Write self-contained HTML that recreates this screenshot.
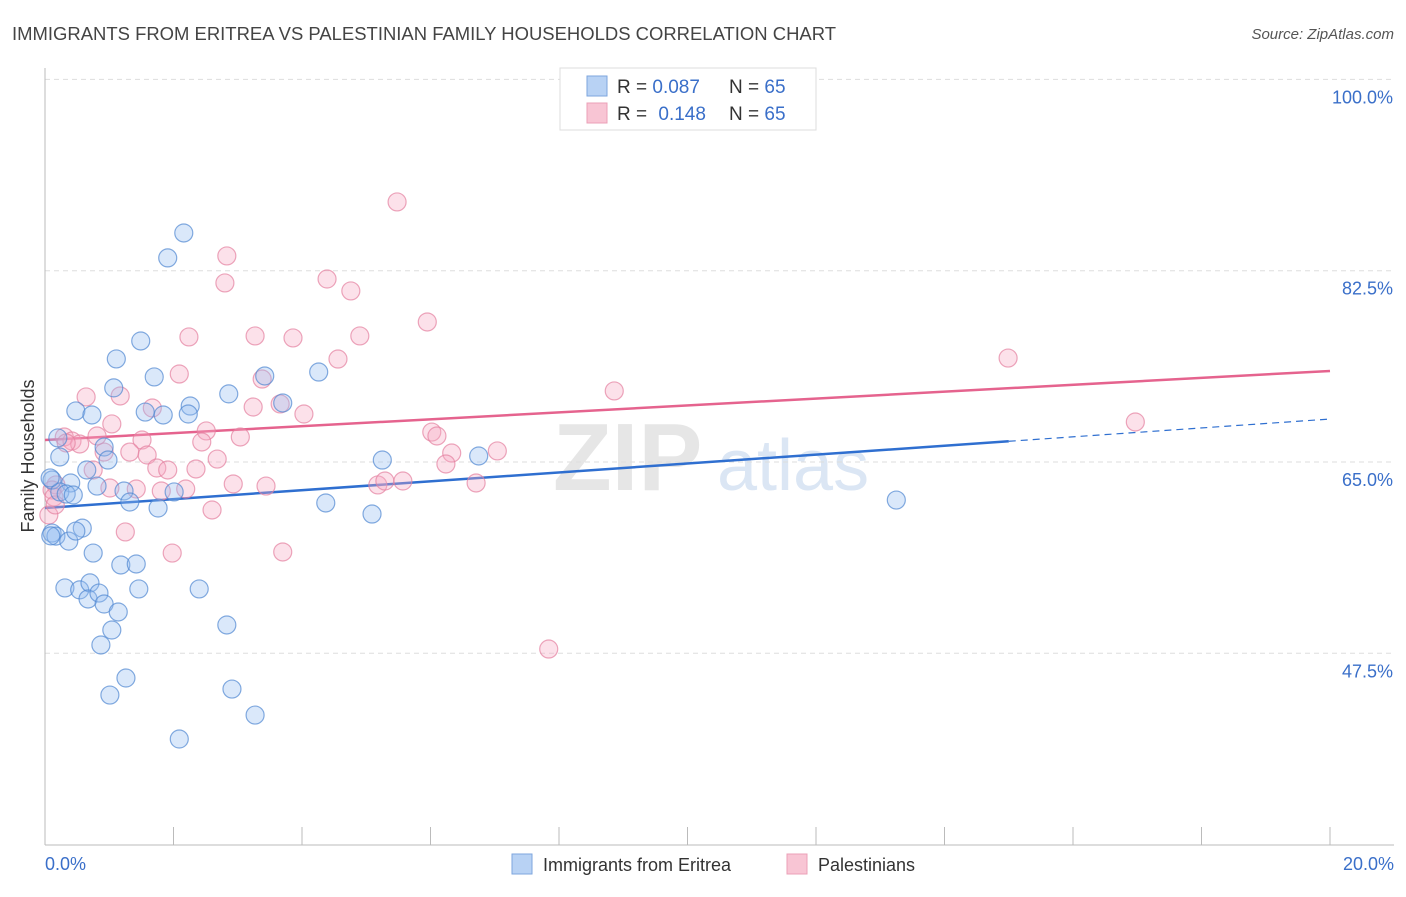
<!DOCTYPE html>
<html><head><meta charset="utf-8">
<style>
body{margin:0;background:#fff;font-family:"Liberation Sans",sans-serif;}
svg text{font-family:"Liberation Sans",sans-serif;}
</style></head>
<body>
<svg id="chart" width="1406" height="892" viewBox="0 0 1406 892" xmlns="http://www.w3.org/2000/svg">
<text x="12" y="40" font-size="18" fill="#444" textLength="824" lengthAdjust="spacingAndGlyphs">IMMIGRANTS FROM ERITREA VS PALESTINIAN FAMILY HOUSEHOLDS CORRELATION CHART</text>
<text x="1394" y="39" font-size="15" fill="#555" font-style="italic" text-anchor="end">Source: ZipAtlas.com</text>
<g>
<text x="553" y="490" font-size="96" fill="#e6e6e6" font-family="Liberation Serif" font-weight="bold">ZIP</text>
<text x="717" y="490" font-size="72" fill="#dbe6f4">atlas</text>
</g>
<g id="grid"></g>
<g id="axes"></g>
<g id="lines"></g>
<g id="pts"></g>
<text transform="translate(34,456) rotate(-90)" font-size="18" fill="#333" text-anchor="middle">Family Households</text>
<text x="45" y="870" font-size="18" fill="#3a6fc9">0.0%</text>
<text x="1394" y="870" font-size="18" fill="#3a6fc9" text-anchor="end">20.0%</text>
<g>
<rect x="560" y="68" width="256" height="62" fill="#fff" stroke="#ddd"/>
<rect x="587" y="76" width="20" height="20" fill="#b8d2f4" stroke="#7ea6de"/>
<rect x="587" y="103" width="20" height="20" fill="#f8c5d4" stroke="#eba0b7"/>
<text x="617" y="93" font-size="19" fill="#333">R = <tspan fill="#3a6fc9">0.087</tspan></text>
<text x="729" y="93" font-size="19" fill="#333">N = <tspan fill="#3a6fc9">65</tspan></text>
<text x="617" y="120" font-size="19" fill="#333">R = <tspan fill="#3a6fc9" dx="6">0.148</tspan></text>
<text x="729" y="120" font-size="19" fill="#333">N = <tspan fill="#3a6fc9">65</tspan></text>
</g>
<g>
<rect x="512" y="854" width="20" height="20" fill="#b8d2f4" stroke="#7ea6de"/>
<text x="543" y="871" font-size="18" fill="#333">Immigrants from Eritrea</text>
<rect x="787" y="854" width="20" height="20" fill="#f8c5d4" stroke="#eba0b7"/>
<text x="818" y="871" font-size="18" fill="#333">Palestinians</text>
</g>
</svg>
<script>
const yTicks=[47.5,65.0,82.5,100.0];
const xTicks=[0,2,4,6,8,10,12,14,16,18,20];
const blueX=[2.16,1.91,1.49,1.11,1.70,1.07,2.86,3.42,4.26,0.48,0.73,1.56,1.84,2.26,2.23,3.70,0.20,0.92,0.23,0.98,0.65,0.40,0.81,0.11,0.23,0.33,0.44,1.23,1.32,2.01,1.76,4.37,5.25,5.09,6.75,13.25,0.11,0.17,0.37,0.58,0.48,0.75,1.18,1.42,0.31,0.54,0.70,1.46,2.40,0.67,0.84,0.92,1.14,1.04,0.87,2.83,1.26,1.01,2.91,3.27,2.09,0.08,0.09];
const blueY=[85.95,83.67,76.07,74.43,72.78,71.78,71.23,72.87,73.23,69.67,69.30,69.57,69.30,70.12,69.39,70.40,67.20,66.37,65.46,65.18,64.27,63.08,62.80,63.35,62.26,62.07,61.98,62.35,61.34,62.26,60.79,61.25,65.18,60.24,65.55,61.52,58.50,58.22,57.76,58.95,58.68,56.67,55.58,55.67,53.48,53.30,53.94,53.39,53.39,52.47,53.01,52.01,51.28,49.63,48.26,50.09,45.24,43.68,44.23,41.85,39.66,63.54,58.24];
const pinkX=[5.48,2.83,2.80,4.39,4.76,5.95,3.27,2.24,3.86,4.90,4.56,14.99,2.09,3.38,8.86,0.64,1.17,1.67,3.66,3.24,4.03,16.97,1.04,2.51,0.30,0.42,3.04,0.81,1.51,2.44,6.02,6.10,0.54,0.92,1.32,1.59,6.33,7.04,2.68,6.24,0.75,1.74,1.91,2.35,2.93,3.44,5.18,5.29,5.57,6.71,1.01,1.42,1.81,2.19,0.17,0.11,0.14,2.60,1.25,1.98,3.70,7.84,0.33,0.06,0.16];
const pinkY=[88.79,83.85,81.38,81.74,80.65,77.81,76.53,76.44,76.35,76.53,74.42,74.51,73.05,72.59,71.50,70.95,71.04,69.94,70.31,70.03,69.39,68.66,68.48,67.84,67.29,66.92,67.29,67.38,67.01,66.83,67.74,67.38,66.65,65.91,65.91,65.64,65.82,66.01,65.27,64.82,64.27,64.45,64.27,64.36,62.99,62.80,62.90,63.26,63.26,63.08,62.62,62.53,62.35,62.53,62.90,62.44,61.80,60.61,58.60,56.67,56.77,47.89,66.74,60.15,61.07];
const blueTrend=[60.79,68.93];
const pinkTrend=[67.01,73.33];
const blueSolidEnd=15.0;

const NS="http://www.w3.org/2000/svg";
const X0=45,X1=1330,Y65=462,PX=191.3/17.5;
function sx(v){return X0+(X1-X0)*v/20;}
function sy(v){return Y65-(v-65)*PX;}
function mk(tag,attrs,parent){const e=document.createElementNS(NS,tag);for(const k in attrs)e.setAttribute(k,attrs[k]);parent.appendChild(e);return e;}
const grid=document.getElementById('grid'),axes=document.getElementById('axes'),lines=document.getElementById('lines'),pts=document.getElementById('pts');
yTicks.forEach(t=>{
  const l=mk('line',{x1:X0,x2:1394,y1:sy(t),y2:sy(t),stroke:'#ddd','stroke-dasharray':'5,4'},grid);
  
  
  const tx=mk('text',{x:1393,y:sy(t)+24,'font-size':18,fill:'#3a6fc9','text-anchor':'end'},axes);
  tx.textContent=t.toFixed(1)+'%';
  
  
});
const ya=mk('line',{x1:X0,x2:X0,y1:68,y2:845,stroke:'#bbb'},axes);


const xa=mk('line',{x1:X0,x2:1394,y1:845,y2:845,stroke:'#bbb'},axes);


xTicks.forEach(t=>{
  const l=mk('line',{x1:sx(t),x2:sx(t),y1:827,y2:845,stroke:'#bbb'},axes);
  
  
});
const bEndY=blueTrend[0]+(blueTrend[1]-blueTrend[0])*blueSolidEnd/20;
const bl=mk('line',{x1:sx(0),y1:sy(blueTrend[0]),x2:sx(blueSolidEnd),y2:sy(bEndY),stroke:'#2f6fd0','stroke-width':2.5},lines);


const bd=mk('line',{x1:sx(blueSolidEnd),y1:sy(bEndY),x2:sx(20),y2:sy(blueTrend[1]),stroke:'#2f6fd0','stroke-width':1.2,'stroke-dasharray':'7,5'},lines);


const pl=mk('line',{x1:sx(0),y1:sy(pinkTrend[0]),x2:sx(20),y2:sy(pinkTrend[1]),stroke:'#e5638e','stroke-width':2.5},lines);


pinkX.forEach((x,i)=>{
  const c=mk('circle',{cx:sx(x),cy:sy(pinkY[i]),r:9,fill:'rgba(245,170,195,0.35)',stroke:'rgba(228,128,160,0.7)','stroke-width':1.2},pts);
  
  
});
blueX.forEach((x,i)=>{
  const c=mk('circle',{cx:sx(x),cy:sy(blueY[i]),r:9,fill:'rgba(150,190,240,0.35)',stroke:'rgba(80,135,210,0.7)','stroke-width':1.2},pts);
  
  
});
</script>
</body></html>
